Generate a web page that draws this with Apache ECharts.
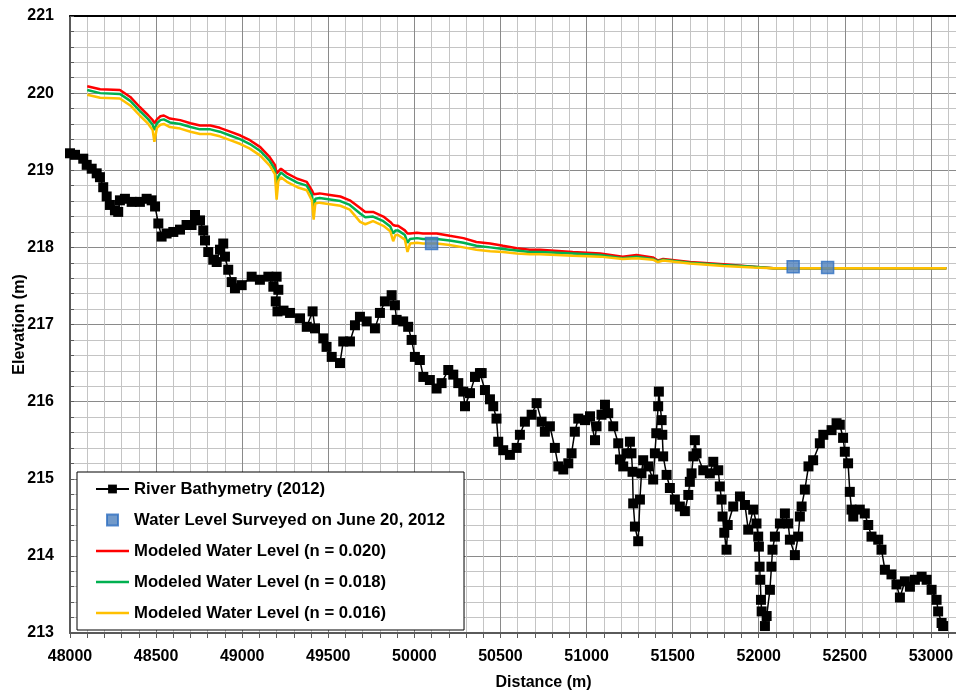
<!DOCTYPE html>
<html>
<head>
<meta charset="utf-8">
<script src="https://cdn.jsdelivr.net/npm/echarts@6/dist/echarts.min.js"></script>
<style>
  html, body { margin: 0; padding: 0; background: #fff; }
  #chart { width: 956px; height: 692px; }
</style>
</head>
<body>
<div id="chart"></div>
<script>
// River bathymetry profile (2012): distance along channel (m) and bed elevation (m)
const bathyDist = [
  48000, 48029, 48077, 48097, 48126, 48155, 48174, 48193, 48213, 48232,
  48261, 48280, 48290, 48319, 48358, 48406, 48445, 48474, 48494, 48513,
  48532, 48561, 48600, 48639, 48677, 48706, 48726, 48755, 48774, 48784,
  48803, 48832, 48852, 48871, 48890, 48900, 48919, 48939, 48958, 48997,
  49055, 49103, 49152, 49181, 49200, 49210, 49195, 49205, 49240, 49278,
  49336, 49375, 49409, 49423, 49471, 49490, 49520, 49568, 49587, 49626,
  49655, 49684, 49723, 49771, 49800, 49829, 49868, 49887, 49897, 49935,
  49964, 49984, 50003, 50032, 50052, 50090, 50129, 50158, 50197, 50226,
  50255, 50284, 50294, 50323, 50352, 50381, 50391, 50410, 50439, 50458,
  50477, 50487, 50516, 50555, 50594, 50613, 50642, 50681, 50710, 50739,
  50758, 50787, 50816, 50836, 50865, 50894, 50913, 50932, 50952, 50991,
  51020, 51049, 51058, 51087, 51107, 51126, 51155, 51184, 51194, 51213,
  51232, 51252, 51261, 51267, 51271, 51281, 51300, 51310, 51319, 51329,
  51358, 51387, 51397, 51405, 51416, 51420, 51436, 51440, 51445, 51465,
  51484, 51513, 51542, 51571, 51591, 51600, 51610, 51620, 51629, 51639,
  51678, 51716, 51736, 51765, 51774, 51784, 51790, 51800, 51813, 51820,
  51852, 51891, 51920, 51939, 51968, 51987, 51997, 52001, 52005, 52009,
  52013, 52017, 52036, 52046, 52065, 52074, 52080, 52094, 52123, 52152,
  52171, 52181, 52210, 52229, 52239, 52249, 52268, 52289, 52316, 52355,
  52375, 52423, 52452, 52471, 52490, 52500, 52519, 52529, 52539, 52549,
  52587, 52616, 52636, 52655, 52694, 52713, 52733, 52771, 52800, 52820,
  52849, 52878, 52907, 52946, 52975, 53004, 53033, 53042, 53062, 53071
];
const bathyElev = [
  219.22, 219.20, 219.15, 219.07, 219.02, 218.96, 218.91, 218.78, 218.66, 218.55,
  218.48, 218.46, 218.61, 218.63, 218.59, 218.59, 218.63, 218.61, 218.53, 218.31,
  218.14, 218.18, 218.20, 218.23, 218.29, 218.29, 218.42, 218.35, 218.22, 218.09,
  217.94, 217.84, 217.81, 217.97, 218.05, 217.88, 217.71, 217.55, 217.47, 217.51,
  217.62, 217.58, 217.62, 217.49, 217.62, 217.45, 217.30, 217.17, 217.18, 217.15,
  217.08, 216.97, 217.17, 216.95, 216.82, 216.71, 216.58, 216.50, 216.78, 216.78,
  216.99, 217.10, 217.04, 216.95, 217.15, 217.30, 217.38, 217.25, 217.06, 217.04,
  216.97, 216.80, 216.58, 216.54, 216.32, 216.28, 216.17, 216.24, 216.41, 216.35,
  216.24, 216.13, 215.94, 216.11, 216.32, 216.37, 216.37, 216.15, 216.03, 215.94,
  215.78, 215.48, 215.37, 215.31, 215.40, 215.57, 215.74, 215.83, 215.98, 215.74,
  215.61, 215.68, 215.40, 215.16, 215.12, 215.20, 215.33, 215.61, 215.78, 215.76,
  215.81, 215.50, 215.68, 215.83, 215.96, 215.85, 215.68, 215.46, 215.25, 215.16,
  215.33, 215.48, 215.33, 215.09, 214.68, 214.38, 214.19, 214.73, 215.07, 215.24,
  215.16, 214.99, 215.33, 215.59, 215.94, 216.13, 215.76, 215.57, 215.29, 215.05,
  214.88, 214.73, 214.64, 214.58, 214.79, 214.96, 215.07, 215.29, 215.50, 215.33,
  215.11, 215.07, 215.22, 215.11, 214.90, 214.73, 214.51, 214.30, 214.08, 214.40,
  214.64, 214.77, 214.66, 214.34, 214.60, 214.42, 214.25, 214.12, 213.86, 213.69,
  213.43, 213.28, 213.09, 213.22, 213.56, 213.86, 214.08, 214.25, 214.42, 214.55,
  214.42, 214.21, 214.01, 214.25, 214.51, 214.64, 214.86, 215.16, 215.24, 215.46,
  215.57, 215.63, 215.72, 215.70, 215.53, 215.35, 215.20, 214.83, 214.60, 214.51,
  214.60, 214.55, 214.40, 214.25, 214.21, 214.08, 213.82, 213.76, 213.63, 213.46,
  213.67, 213.60, 213.69, 213.73, 213.69, 213.56, 213.43, 213.28, 213.13, 213.09
];

// Water level surveyed on June 20, 2012
const surveyDist = [50100, 52200, 52400];
const surveyElev = [218.05, 217.75, 217.74];

// Modeled water surface profiles for three Manning's n values
const modelDist = [
  48100, 48175, 48290, 48350, 48405, 48455, 48480, 48490, 48505, 48525,
  48545, 48580, 48640, 48700, 48755, 48815, 48870, 48930, 48990, 49045,
  49105, 49160, 49190, 49200, 49210, 49225, 49260, 49320, 49375, 49405,
  49415, 49425, 49450, 49510, 49570, 49625, 49685, 49715, 49760, 49820,
  49860, 49877, 49890, 49905, 49945, 49960, 49975, 50015, 50050, 50130,
  50205, 50285, 50360, 50440, 50515, 50595, 50670, 50730, 50920, 51080,
  51210, 51290, 51385, 51415, 51445, 51600, 51795, 51970, 52085, 52400,
  52800, 53090
];
const modelN020 = [
  220.09, 220.05, 220.04, 219.95, 219.82, 219.71, 219.65, 219.61, 219.66, 219.70,
  219.71, 219.67, 219.65, 219.61, 219.58, 219.58, 219.55, 219.50, 219.45, 219.39,
  219.30, 219.17, 219.07, 218.96, 218.98, 219.02, 218.96, 218.89, 218.85, 218.74,
  218.69, 218.70, 218.70, 218.68, 218.66, 218.61, 218.51, 218.46, 218.46, 218.40,
  218.33, 218.29, 218.28, 218.28, 218.22, 218.18, 218.18, 218.19, 218.18, 218.18,
  218.15, 218.12, 218.07, 218.05, 218.02, 217.99, 217.97, 217.97, 217.94, 217.92,
  217.88, 217.90, 217.87, 217.83, 217.85, 217.81, 217.78, 217.75, 217.73, 217.73,
  217.73, 217.73
];
const modelN018 = [
  220.04, 220.00, 219.99, 219.90, 219.77, 219.66, 219.59, 219.52, 219.61, 219.65,
  219.66, 219.62, 219.60, 219.56, 219.53, 219.53, 219.50, 219.45, 219.40, 219.34,
  219.25, 219.12, 219.01, 218.79, 218.92, 218.97, 218.91, 218.84, 218.80, 218.68,
  218.50, 218.63, 218.64, 218.62, 218.60, 218.55, 218.44, 218.39, 218.40, 218.34,
  218.27, 218.18, 218.22, 218.22, 218.16, 218.06, 218.11, 218.12, 218.11, 218.11,
  218.09, 218.06, 218.02, 218.00, 217.98, 217.96, 217.94, 217.94, 217.92, 217.90,
  217.86, 217.88, 217.85, 217.82, 217.84, 217.80, 217.77, 217.75, 217.73, 217.73,
  217.73, 217.73
];
const modelN016 = [
  219.98, 219.94, 219.93, 219.84, 219.71, 219.60, 219.52, 219.37, 219.55, 219.59,
  219.60, 219.56, 219.54, 219.50, 219.47, 219.47, 219.44, 219.39, 219.34, 219.28,
  219.19, 219.06, 218.95, 218.62, 218.86, 218.91, 218.85, 218.78, 218.74, 218.61,
  218.36, 218.57, 218.58, 218.56, 218.54, 218.49, 218.33, 218.30, 218.34, 218.28,
  218.21, 218.08, 218.16, 218.16, 218.10, 217.94, 218.05, 218.06, 218.05, 218.05,
  218.03, 218.00, 217.97, 217.95, 217.94, 217.92, 217.91, 217.91, 217.89, 217.88,
  217.85, 217.86, 217.84, 217.81, 217.83, 217.79, 217.76, 217.74, 217.73, 217.73,
  217.73, 217.73
];

const seriesNames = [
  'River Bathymetry (2012)',
  'Water Level Surveyed on June 20, 2012',
  'Modeled Water Level (n = 0.020)',
  'Modeled Water Level (n = 0.018)',
  'Modeled Water Level (n = 0.016)'
];

const pairs = (xs, ys) => xs.map((x, i) => [x, ys[i]]);
const FONT = 'Liberation Sans, Arial, sans-serif';
const plainNumber = v => String(v);

// Legend glyphs (legend keeps their aspect ratio): a thin bar and a small square
const LINE_ICON = 'path://M0,0h33v2.5h-33z';
const SQUARE_ICON = 'path://M0,0h10v10h-10z';

const chart = echarts.init(document.getElementById('chart'), null, { renderer: 'canvas' });

const modelLine = (name, values, color) => ({
  name,
  type: 'line',
  data: pairs(modelDist, values),
  showSymbol: false,
  symbol: 'none',
  lineStyle: { color, width: 2.5 },
  itemStyle: { color },
  z: 3
});

const axisNameStyle = { fontFamily: FONT, fontWeight: 'bold', fontSize: 16, color: '#000' };
const tickLabelStyle = { fontFamily: FONT, fontWeight: 'bold', fontSize: 16, color: '#000', formatter: plainNumber };

chart.setOption({
  animation: false,
  backgroundColor: '#ffffff',
  grid: { left: 70, top: 16, bottom: 59, right: -61, containLabel: false, outerBoundsMode: 'none' },
  xAxis: [{
    type: 'value',
    min: 48000,
    max: 53500,
    interval: 500,
    name: 'Distance (m)',
    nameLocation: 'middle',
    nameGap: 42,
    nameMoveOverlap: false,
    nameTextStyle: axisNameStyle,
    axisLine: { show: true, onZero: false, lineStyle: { color: '#5a5a5a', width: 2 } },
    axisTick: { show: true, length: 5, lineStyle: { color: '#5a5a5a' } },
    minorTick: { show: true, splitNumber: 5, length: 5, lineStyle: { color: '#5a5a5a' } },
    axisLabel: Object.assign({ margin: 16 }, tickLabelStyle),
    splitLine: { show: true, lineStyle: { color: '#8a8a8a', width: 1 } },
    minorSplitLine: { show: true, lineStyle: { color: '#c4c4c4', width: 1 } }
  }, {
    type: 'value',
    position: 'top',
    min: 48000,
    max: 53500,
    interval: 500,
    axisLine: { show: true, lineStyle: { color: '#000', width: 2 } },
    axisTick: { show: false },
    axisLabel: { show: false },
    splitLine: { show: false }
  }],
  yAxis: {
    type: 'value',
    min: 213,
    max: 221,
    interval: 1,
    name: 'Elevation (m)',
    nameLocation: 'middle',
    nameGap: 42,
    nameRotate: 90,
    nameMoveOverlap: false,
    nameTextStyle: axisNameStyle,
    axisLine: { show: true, onZero: false, lineStyle: { color: '#5a5a5a', width: 2 } },
    axisTick: { show: true, inside: true, length: 4, lineStyle: { color: '#5a5a5a' } },
    minorTick: { show: true, splitNumber: 5, length: 4, lineStyle: { color: '#5a5a5a' } },
    axisLabel: Object.assign({ margin: 16 }, tickLabelStyle),
    splitLine: { show: true, lineStyle: { color: '#8a8a8a', width: 1 } },
    minorSplitLine: { show: true, lineStyle: { color: '#c4c4c4', width: 1 } }
  },
  legend: {
    orient: 'vertical',
    left: 77,
    top: 472,
    backgroundColor: '#ffffff',
    borderColor: '#000000',
    borderWidth: 1,
    borderRadius: 0,
    padding: [8, 19, 8, 18],
    itemWidth: 33,
    itemHeight: 11,
    itemGap: 13,
    symbolKeepAspect: true,
    selectedMode: false,
    textStyle: { fontFamily: FONT, fontWeight: 'bold', fontSize: 16.7, color: '#000', lineHeight: 18 },
    data: [
      { name: seriesNames[0] },
      { name: seriesNames[1], icon: SQUARE_ICON },
      { name: seriesNames[2], icon: LINE_ICON },
      { name: seriesNames[3], icon: LINE_ICON },
      { name: seriesNames[4], icon: LINE_ICON }
    ]
  },
  series: [
    {
      name: seriesNames[0],
      type: 'line',
      data: pairs(bathyDist, bathyElev),
      symbol: 'rect',
      symbolSize: 10,
      showAllSymbol: true,
      lineStyle: { color: '#000', width: 1.5 },
      itemStyle: { color: '#000' },
      z: 2
    },
    {
      name: seriesNames[1],
      type: 'scatter',
      data: pairs(surveyDist, surveyElev),
      symbol: 'rect',
      symbolSize: 12,
      itemStyle: { color: '#4F81BD', borderColor: '#2F6FC0', borderWidth: 1.5 },
      z: 6
    },
    modelLine(seriesNames[2], modelN020, '#FF0000'),
    modelLine(seriesNames[3], modelN018, '#00B050'),
    modelLine(seriesNames[4], modelN016, '#FFC000')
  ]
});
</script>
</body>
</html>
